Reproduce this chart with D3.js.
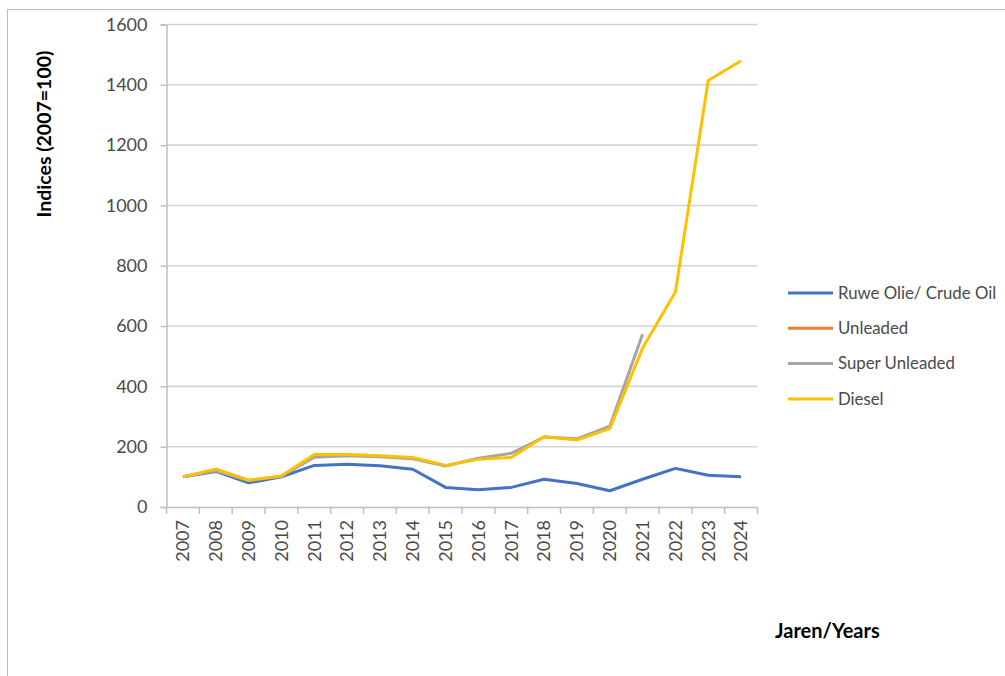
<!DOCTYPE html>
<html><head><meta charset="utf-8">
<script src="https://cdn.jsdelivr.net/npm/d3@7"></script>
<style>
body{margin:0;background:#fff;}
text{font-family:Lato,"Open Sans",sans-serif;}
</style></head>
<body><svg id="c" width="1005" height="676"></svg>
<script>
const years = ["2007","2008","2009","2010","2011","2012","2013","2014","2015","2016","2017","2018","2019","2020","2021","2022","2023","2024"];
const crudeOil = [100,118,80,100,138,142,137,125,65,57,65,92,78,54,92,128,105,100];
const unleaded = [null,null,null,null,null,null,null,null,null,null,null,null,null,null,null,null,null,null];
const superUnleaded = [100,120,88,102,165,170,167,160,136,162,178,232,226,268,573,null,null,null];
const diesel = [100,126,89,103,174,174,170,164,138,158,164,233,222,260,527,713,1414,1480];
const yTicks = [0,200,400,600,800,1000,1200,1400,1600];
const seriesNames = ["Ruwe Olie/ Crude Oil","Unleaded","Super Unleaded","Diesel"];
const seriesColors = ["#4472C4","#ED7D31","#A5A5A5","#FFC000"];
const seriesData = [crudeOil, unleaded, superUnleaded, diesel];

const svg = d3.select("#c");
svg.append("rect").attr("x",7.5).attr("y",9.5).attr("width",1010).attr("height",680)
  .attr("fill","none").attr("stroke","#bdbdbd").attr("stroke-width",1);

const x = d3.scaleBand().domain(years).range([166.5,757.5]);
const y = d3.scaleLinear().domain([0,1600]).range([507,24.5]);

svg.append("g").selectAll("line").data(yTicks.filter(d=>d>0)).join("line")
  .attr("x1",166.5).attr("x2",757.5).attr("y1",d=>y(d)).attr("y2",d=>y(d))
  .attr("stroke","#d4d4d4").attr("stroke-width",1.6);

const ya = svg.append("g").attr("transform","translate(166.5,0)")
  .call(d3.axisLeft(y).tickValues(yTicks).tickSize(6).tickPadding(13).tickFormat(d3.format("d")));
ya.select(".domain").attr("stroke","#bfbfbf").attr("stroke-width",1.5);
ya.selectAll(".tick line").attr("stroke","#bfbfbf").attr("stroke-width",1.5);
ya.selectAll("text").attr("font-size",18).attr("fill","#4a4a4a").attr("font-family","Lato,sans-serif");

const xa = svg.append("g").attr("transform","translate(0,507)")
  .call(d3.axisBottom(x).tickSize(0).tickSizeOuter(0));
xa.select(".domain").attr("stroke","#bfbfbf").attr("stroke-width",1.5);
xa.selectAll(".tick text").attr("font-size",18).attr("fill","#4a4a4a").attr("font-family","Lato,sans-serif")
  .attr("transform","rotate(-90)").attr("text-anchor","end").attr("dy","0.35em").attr("x",-13).attr("y",0);
const bounds = years.map(d=>x(d)).concat([x(years[years.length-1])+x.bandwidth()]);
svg.append("g").selectAll("line").data(bounds).join("line")
  .attr("x1",d=>d).attr("x2",d=>d).attr("y1",507).attr("y2",514)
  .attr("stroke","#bfbfbf").attr("stroke-width",1.5);

const line = d3.line().defined(d=>d.v!=null).x(d=>x(d.yr)+x.bandwidth()/2).y(d=>y(d.v));
seriesData.forEach((arr,i)=>{
  const pts = years.map((yr,j)=>({yr, v:arr[j]}));
  svg.append("path").datum(pts).attr("d",line).attr("fill","none")
    .attr("stroke",seriesColors[i]).attr("stroke-width",3).attr("stroke-linejoin","round");
});

svg.append("text").attr("transform","translate(51,134) rotate(-90)").attr("text-anchor","middle")
  .attr("font-size",19.5).attr("font-weight","bold").attr("fill","#000").text("Indices (2007=100)");
svg.append("text").attr("x",775).attr("y",638).attr("font-size",20).attr("font-weight","bold")
  .attr("fill","#000").text("Jaren/Years");

const lg = svg.append("g");
seriesNames.forEach((n,i)=>{
  const yy = 293 + i*35.3;
  lg.append("line").attr("x1",788).attr("x2",833).attr("y1",yy).attr("y2",yy)
    .attr("stroke",seriesColors[i]).attr("stroke-width",3);
  lg.append("text").attr("x",838).attr("y",yy).attr("dy","0.35em").attr("font-size",16.8)
    .attr("fill","#4a4a4a").text(n);
});
</script></body></html>
